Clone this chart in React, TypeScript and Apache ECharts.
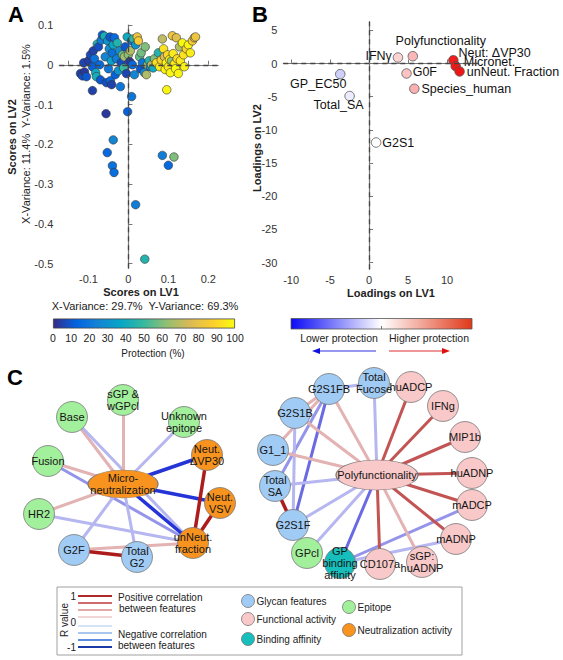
import React, { useEffect, useRef } from "react";
import * as echarts from "echarts";

const FONT = "'Liberation Sans', Arial, Helvetica, sans-serif";

// ---------------- Panel A : scores [LV1, LV2, protection %] ----------------
const scoreTicksX = [-0.15, -0.1, -0.05, 0, 0.05, 0.1, 0.15, 0.2];
const scoreLabelsX = [-0.1, 0, 0.1, 0.2];
const scoreTicksY = [0.1, 0, -0.1, -0.2, -0.3, -0.4, -0.5];
const scores: number[][] = [
  [-0.12, -0.022, 5], [-0.115, -0.028, 8], [-0.11, -0.018, 3], [-0.105, -0.03, 10],
  [-0.112, 0.005, 6], [-0.1, 0.01, 4], [-0.095, 0.025, 7], [-0.09, -0.005, 12],
  [-0.088, 0.035, 5], [-0.085, 0.015, 18], [-0.082, -0.02, 40], [-0.08, -0.03, 42],
  [-0.078, 0.052, 45], [-0.075, 0.045, 8], [-0.072, 0.0, 15], [-0.07, -0.038, 10],
  [-0.068, 0.062, 22], [-0.065, 0.075, 12], [-0.06, 0.072, 42], [-0.058, 0.02, 25],
  [-0.055, -0.045, 8], [-0.052, 0.06, 30], [-0.05, -0.01, 20], [-0.048, 0.04, 28],
  [-0.046, 0.07, 10], [-0.045, -0.04, 15], [-0.043, 0.01, 35], [-0.042, -0.05, 5],
  [-0.04, 0.03, 18], [-0.038, 0.05, 38], [-0.035, 0.068, 15], [-0.033, -0.025, 12],
  [-0.03, 0.015, 22], [-0.028, 0.055, 45], [-0.025, -0.015, 30], [-0.022, 0.035, 28],
  [-0.02, -0.055, 20], [-0.018, 0.005, 8], [-0.015, 0.025, 55], [-0.012, -0.008, 50],
  [-0.01, 0.02, 65], [-0.008, 0.045, 10], [-0.005, -0.022, 6], [-0.003, 0.07, 40],
  [0.0, 0.025, 62], [0.003, 0.008, 3], [0.005, 0.035, 68], [0.008, 0.06, 20],
  [0.01, 0.0, 15], [0.012, 0.065, 48], [0.015, -0.025, 25], [0.018, 0.05, 30],
  [0.022, 0.07, 82], [0.025, 0.06, 85], [0.028, 0.02, 55], [0.03, -0.01, 10],
  [0.032, 0.03, 58], [0.035, 0.005, 20], [0.04, -0.02, 28], [0.042, 0.045, 60],
  [0.045, -0.025, 68], [0.048, 0.0, 65], [0.052, 0.01, 45], [0.055, -0.005, 25],
  [0.058, 0.0, 70], [0.062, -0.008, 40], [0.065, 0.015, 60], [0.07, 0.005, 92],
  [0.075, 0.03, 45], [0.078, -0.005, 95], [0.082, 0.012, 88], [0.085, 0.065, 70],
  [0.088, 0.04, 93], [0.09, 0.02, 75], [0.092, -0.012, 98], [0.095, 0.005, 100],
  [0.098, 0.025, 90], [0.1, -0.005, 94], [0.103, 0.013, 97], [0.105, -0.02, 99],
  [0.108, 0.01, 62], [0.11, 0.073, 82], [0.112, 0.028, 95], [0.115, 0.002, 96],
  [0.118, -0.01, 100], [0.12, 0.068, 78], [0.122, 0.015, 91], [0.125, -0.022, 98],
  [0.128, 0.045, 68], [0.13, 0.01, 95], [0.135, 0.055, 100], [0.138, 0.025, 93],
  [0.14, -0.005, 97], [0.145, 0.04, 90], [0.15, 0.05, 98], [0.155, 0.03, 96],
  [0.16, 0.06, 85], [0.165, 0.068, 80], [0.168, 0.07, 82],
  [-0.09, -0.065, 5], [-0.056, -0.123, 3], [-0.002, -0.118, 12], [0.008, -0.08, 20],
  [-0.038, -0.189, 25], [-0.053, -0.221, 15], [-0.04, -0.254, 18], [-0.036, -0.271, 16],
  [0.018, -0.352, 22], [0.041, -0.489, 45], [0.085, -0.228, 22], [0.1, -0.253, 15],
  [0.114, -0.232, 60], [0.096, -0.063, 98],
];
const protectionRange = [0, 100];
const parula = ["#352a87", "#0363e1", "#1485d4", "#06a7c6", "#38b99e", "#92bf73", "#d9ba56", "#fcce2e", "#f9fb0e"];

// ---------------- Panel B : loadings ----------------
const loadingNames = ["G2S1", "Total_SA", "GP_EC50", "IFNγ", "G0F", "Species_human", "Polyfunctionality", "Neut: ΔVP30", "Micronet.", "unNeut. Fraction"];
const loadingLV1 = [0.9, -2.5, -3.7, 3.7, 4.8, 5.8, 5.6, 10.8, 11.1, 11.6];
const loadingLV2 = [-11.9, -4.9, -1.6, 0.9, -1.5, -3.8, 1.1, 0.5, -0.4, -1.2];
const loadingCorr = [0.0, -0.08, -0.2, 0.18, 0.25, 0.33, 0.3, 0.95, 0.97, 0.98];
const loadingTicksX = [-10, -5, 0, 5, 10];
const loadingTicksY = [5, 0, -5, -10, -15, -20, -25, -30];

// ---------------- Panel C : networks ----------------
const leftKeys = ["sGP", "Base", "Unknown", "Fusion", "NeutVP30", "Micro", "NeutVSV", "HR2", "unNeut", "G2F", "TotalG2"];
const leftLabels = ["sGP &\nwGPcl", "Base", "Unknown\nepitope", "Fusion", "Neut.\nΔVP30", "Micro-\nneutralization", "Neut.\nVSV", "HR2", "unNeut.\nfraction", "G2F", "Total\nG2"];
const leftX = [123, 72, 184, 48, 207, 123, 220, 39, 193, 74, 137];
const leftY = [400, 417, 422, 461, 455, 484, 503, 514, 543, 550, 557];
const leftGroup = ["epitope", "epitope", "epitope", "epitope", "neutralization", "neutralization", "neutralization", "epitope", "neutralization", "glycan", "glycan"];
const leftEdges: [string, string, number][] = [
  ["Base", "Micro", 0.3], ["Base", "unNeut", -0.35], ["sGP", "Micro", 0.3], ["Unknown", "Micro", -0.3],
  ["Fusion", "Micro", 0.3], ["Fusion", "unNeut", -0.4], ["HR2", "Micro", 0.3], ["HR2", "unNeut", -0.35],
  ["G2F", "Micro", -0.3], ["TotalG2", "Micro", -0.3], ["G2F", "unNeut", 0.3], ["G2F", "TotalG2", 0.85],
  ["Micro", "NeutVP30", -0.85], ["Micro", "NeutVSV", -0.85], ["Micro", "unNeut", -0.85],
  ["NeutVP30", "unNeut", 0.85], ["NeutVSV", "unNeut", 0.85],
];

const rightKeys = ["Poly", "TotalFucose", "huADCP", "G2S1FB", "IFNg", "G2S1B", "MIP1b", "G1_1", "huADNP", "TotalSA", "mADCP", "G2S1F", "mADNP", "GPcl", "GPbinding", "CD107a", "sGPhuADNP"];
const rightLabels = ["Polyfunctionality", "Total\nFucose", "huADCP", "G2S1FB", "IFNg", "G2S1B", "MIP1b", "G1_1", "huADNP", "Total\nSA", "mADCP", "G2S1F", "mADNP", "GPcl", "GP\nbinding\naffinity", "CD107a", "sGP:\nhuADNP"];
const rightX = [377, 374, 411, 329, 443, 295, 465, 273, 472, 275, 472, 293, 456, 307, 340, 380, 422];
const rightY = [475, 383, 387, 389, 406, 413, 437, 450, 473, 486, 505, 525, 539, 553, 563, 564, 562];
const rightGroup = ["functional", "glycan", "functional", "glycan", "functional", "glycan", "functional", "glycan", "functional", "glycan", "functional", "glycan", "functional", "epitope", "binding", "functional", "functional"];
const rightEdges: [string, string, number][] = [
  ["G2S1FB", "TotalFucose", -0.3], ["G2S1FB", "G2S1B", 0.3], ["G2S1FB", "G1_1", 0.3],
  ["G2S1FB", "TotalSA", -0.45], ["G2S1FB", "G2S1F", -0.6], ["G2S1B", "G2S1F", -0.35],
  ["TotalSA", "G2S1F", 0.85], ["GPbinding", "mADCP", -0.5], ["GPbinding", "mADNP", -0.3],
  ["TotalFucose", "Poly", -0.3], ["huADCP", "Poly", 0.65], ["IFNg", "Poly", 0.6], ["MIP1b", "Poly", 0.65],
  ["huADNP", "Poly", 0.65], ["mADCP", "Poly", 0.65], ["mADNP", "Poly", 0.65], ["CD107a", "Poly", 0.6],
  ["sGPhuADNP", "Poly", 0.3], ["G2S1FB", "Poly", 0.35], ["G2S1B", "Poly", 0.35], ["G1_1", "Poly", 0.3],
  ["TotalSA", "Poly", -0.3], ["G2S1F", "Poly", -0.35], ["GPcl", "Poly", -0.35], ["GPbinding", "Poly", -0.6],
];

// ---------------- styles ----------------
const groupColor: Record<string, string> = {
  glycan: "#a0cbf4", functional: "#f9c8c8", epitope: "#a2ef9c", neutralization: "#f7931e", binding: "#17bfbc",
};
const legendLineColors = ["#b02a2a", "#cf6b6b", "#e3a8a8", "#f2d6d6", "#d6e2f6", "#a9c6ef", "#5b8ee0", "#1a3aa8"];
const legendLineY = [596, 603, 610, 617, 626, 633, 640, 647];

const loadingLabelPlacement: Record<string, any> = {
  "Polyfunctionality": { position: "top", distance: 4, offset: [28, 0] },
  "IFNγ": { position: "left", distance: 1, offset: [0, -2] },
  "Neut: ΔVP30": { position: "right", distance: 0, offset: [0, -7] },
  "Micronet.": { position: "right", distance: 3, offset: [0, -4] },
  "unNeut. Fraction": { position: "right", distance: 2, offset: [0, 1] },
  "G0F": { position: "right", distance: 1, offset: [0, -1] },
  "Species_human": { position: "right", distance: 2, offset: [0, 0] },
  "GP_EC50": { position: "bottom", distance: -2, offset: [-22, 0] },
  "Total_SA": { position: "bottom", distance: -3, offset: [-11, 0] },
  "G2S1": { position: "right", distance: 1, offset: [0, 0] },
};

function edgeColor(r: number) {
  if (r >= 0.8) return "#ad1c1c";
  if (r >= 0.55) return "#c25454";
  if (r >= 0.4) return "#d58a8a";
  if (r >= 0) return "#e3b2b2";
  if (r > -0.4) return "#b6b6f0";
  if (r > -0.55) return "#9494ea";
  if (r > -0.8) return "#6a6ae2";
  return "#2434d6";
}

function nodeSize(key: string) {
  if (key === "Micro") return [70, 28];
  if (key === "Poly") return [82, 30];
  return 31;
}

function graphSeries(keys: string[], labels: string[], xs: number[], ys: number[], groups: string[], edges: [string, string, number][]) {
  const idx: Record<string, number> = {};
  keys.forEach((k, i) => (idx[k] = i));
  return {
    type: "graph",
    coordinateSystem: "cartesian2d",
    xAxisIndex: 2,
    yAxisIndex: 2,
    layout: "none",
    silent: true,
    roam: false,
    symbol: "circle",
    edgeSymbol: ["none", "none"],
    data: keys.map((k, i) => ({
      name: k,
      value: [xs[i], ys[i]],
      symbolSize: nodeSize(k),
      itemStyle: { color: groupColor[groups[i]], borderColor: "#7a7a7a", borderWidth: 0.8 },
      label: { formatter: labels[i] },
    })),
    links: edges.map(([s, t, r]) => ({
      source: idx[s],
      target: idx[t],
      lineStyle: { color: edgeColor(r), width: Math.abs(r) >= 0.8 ? 3.5 : 3, opacity: 1 },
    })),
    label: { show: true, position: "inside", fontSize: 11, color: "#151515", fontFamily: FONT, lineHeight: 12 },
    lineStyle: { opacity: 1, curveness: 0 },
  };
}

function txt(text: string, x: number, y: number, o: any = {}) {
  return {
    type: "text",
    x,
    y,
    rotation: o.rotation || 0,
    silent: true,
    z: 100,
    style: {
      text,
      x: 0,
      y: 0,
      fill: o.fill || "#222",
      fontSize: o.fontSize || 11,
      fontWeight: o.fontWeight || "normal",
      fontFamily: FONT,
      textAlign: o.align || "center",
      textVerticalAlign: "middle",
    },
  };
}

export default function App() {
  const ref = useRef<HTMLDivElement>(null);
  useEffect(() => {
    if (!ref.current) return;
    const chart = echarts.init(ref.current, undefined, { renderer: "svg" });
    const axisLineStyle = { lineStyle: { color: "#777", width: 1.2 } };
    const tickStyle = { inside: true, length: 4, lineStyle: { color: "#777" } };
    const labelStyle = { fontSize: 11, color: "#333", fontFamily: FONT };
    const dashed = { type: [5, 4], color: "#444", width: 1.3 };

    const loadingData = loadingNames.map((n, i) => ({
      value: [loadingLV1[i], loadingLV2[i], loadingCorr[i], n],
      label: { show: true, formatter: n, ...loadingLabelPlacement[n] },
    }));

    const graphic: any[] = [
      txt("A", 16, 14, { fontSize: 22, fontWeight: "bold", fill: "#000" }),
      txt("B", 260, 14, { fontSize: 22, fontWeight: "bold", fill: "#000" }),
      txt("C", 15, 377, { fontSize: 22, fontWeight: "bold", fill: "#000" }),
      txt("Scores on LV2", 12, 137, { rotation: Math.PI / 2, fontWeight: "bold" }),
      txt("X-Variance: 11.4%  Y-Variance: 1.5%", 26, 134, { rotation: Math.PI / 2 }),
      txt("Scores on LV1", 141, 292, { fontWeight: "bold" }),
      txt("X-Variance: 29.7%  Y-Variance: 69.3%", 145, 306, {}),
      txt("Protection (%)", 153, 353, { fontSize: 10 }),
      txt("Loadings on LV2", 257, 148, { rotation: Math.PI / 2, fontWeight: "bold" }),
      txt("Loadings on LV1", 391, 293, { fontWeight: "bold" }),
      {
        type: "rect",
        silent: true,
        shape: { x: 291, y: 318.5, width: 181, height: 10.5 },
        style: {
          fill: new echarts.graphic.LinearGradient(0, 0, 1, 0, [
            { offset: 0, color: "#0a0af5" },
            { offset: 0.5, color: "#ffffff" },
            { offset: 1, color: "#e03818" },
          ]),
          stroke: "#555",
          lineWidth: 0.8,
        },
      },
      { type: "line", silent: true, shape: { x1: 381.5, y1: 326, x2: 381.5, y2: 329 }, style: { stroke: "#555", lineWidth: 0.8 } },
      txt("Lower protection", 339, 337.5, { fontSize: 10.5 }),
      txt("Higher protection", 429, 337.5, { fontSize: 10.5 }),
      { type: "line", silent: true, shape: { x1: 376, y1: 351, x2: 318, y2: 351 }, style: { stroke: "#3030e0", lineWidth: 1.2 } },
      { type: "polygon", silent: true, shape: { points: [[312, 351], [320, 348], [320, 354]] }, style: { fill: "#1010e0" } },
      { type: "line", silent: true, shape: { x1: 389, y1: 351, x2: 443, y2: 351 }, style: { stroke: "#e03030", lineWidth: 1.2 } },
      { type: "polygon", silent: true, shape: { points: [[450, 351], [442, 348], [442, 354]] }, style: { fill: "#e01010" } },
      // legend box
      { type: "rect", silent: true, shape: { x: 57, y: 587, width: 405, height: 68 }, style: { fill: "#fff", stroke: "#a0a0a0", lineWidth: 1 }, z: 50 },
      txt("R value", 64, 620, { rotation: Math.PI / 2, fontSize: 10 }),
      txt("1", 76, 596, { fontSize: 10, align: "right" }),
      txt("0", 76, 622, { fontSize: 10, align: "right" }),
      txt("-1", 76, 647, { fontSize: 10, align: "right" }),
      ...legendLineColors.map((c, i) => ({
        type: "line",
        silent: true,
        z: 100,
        shape: { x1: 78, y1: legendLineY[i], x2: 112, y2: legendLineY[i] },
        style: { stroke: c, lineWidth: 2 },
      })),
      txt("Positive correlation", 118, 597, { fontSize: 10, align: "left" }),
      txt("between features", 119, 608, { fontSize: 10, align: "left" }),
      txt("Negative correlation", 118, 634, { fontSize: 10, align: "left" }),
      txt("between features", 118, 645, { fontSize: 10, align: "left" }),
      ...([
        ["glycan", "Glycan features", 248, 601],
        ["functional", "Functional activity", 248, 619],
        ["binding", "Binding affinity", 248, 639],
        ["epitope", "Epitope", 349, 607],
        ["neutralization", "Neutralization activity", 349, 630],
      ] as [string, string, number, number][]).flatMap(([g, label, x, y]) => [
        { type: "circle", silent: true, z: 100, shape: { cx: x, cy: y, r: 6.5 }, style: { fill: groupColor[g], stroke: "#777", lineWidth: 0.8 } },
        txt(label, x + 8.5, y, { fontSize: 10, align: "left" }),
      ]),
    ];

    chart.setOption({
      animation: false,
      textStyle: { fontFamily: FONT },
      grid: [
        { left: 59.3, top: 25, width: 159, height: 243.3 },
        { left: 283.3, top: 21.7, width: 195, height: 247.6 },
        { left: 0, top: 360, width: 563, height: 230 },
        { left: 53, top: 318.5, width: 182, height: 10 },
      ],
      xAxis: [
        {
          gridIndex: 0, type: "value", min: -0.173, max: 0.225,
          axisLine: axisLineStyle, axisTick: { ...tickStyle, customValues: scoreTicksX },
          axisLabel: { ...labelStyle, margin: 5, customValues: scoreLabelsX }, splitLine: { show: false },
        },
        {
          gridIndex: 1, type: "value", min: -11, max: 14,
          axisLine: axisLineStyle, axisTick: { ...tickStyle, customValues: loadingTicksX },
          axisLabel: { ...labelStyle, margin: 5, customValues: loadingTicksX }, splitLine: { show: false },
        },
        { gridIndex: 2, type: "value", min: 0, max: 563, show: false },
        {
          gridIndex: 3, type: "value", min: protectionRange[0], max: protectionRange[1], interval: 10,
          axisLine: { show: false }, axisTick: { inside: true, length: 2, lineStyle: { color: "#444" } },
          axisLabel: { fontSize: 10.5, color: "#222", margin: 4, fontFamily: FONT }, splitLine: { show: false },
        },
      ],
      yAxis: [
        {
          gridIndex: 0, type: "value", min: -0.512, max: 0.1,
          axisLine: axisLineStyle, axisTick: { ...tickStyle, customValues: scoreTicksY },
          axisLabel: { ...labelStyle, margin: 6, customValues: scoreTicksY }, splitLine: { show: false },
        },
        {
          gridIndex: 1, type: "value", min: -31, max: 6.3,
          axisLine: axisLineStyle, axisTick: { ...tickStyle, customValues: loadingTicksY },
          axisLabel: { ...labelStyle, margin: 6, customValues: loadingTicksY }, splitLine: { show: false },
        },
        { gridIndex: 2, type: "value", min: 360, max: 590, inverse: true, show: false },
        { gridIndex: 3, type: "category", data: ["bar"], show: false },
      ],
      visualMap: [
        { type: "continuous", show: false, seriesIndex: 0, dimension: 2, min: protectionRange[0], max: protectionRange[1], inRange: { color: parula } },
        { type: "continuous", show: false, seriesIndex: 1, dimension: 2, min: -1, max: 1, inRange: { color: ["#1010f0", "#ffffff", "#f01010"] } },
      ],
      graphic,
      series: [
        {
          type: "scatter", xAxisIndex: 0, yAxisIndex: 0, data: scores, symbolSize: 8.5, silent: true,
          itemStyle: { borderColor: "#333", borderWidth: 0.6, opacity: 1 },
          markLine: { silent: true, symbol: ["none", "none"], label: { show: false }, lineStyle: dashed, data: [{ xAxis: 0 }, { yAxis: 0 }] },
        },
        {
          type: "scatter", xAxisIndex: 1, yAxisIndex: 1, data: loadingData, symbolSize: 9.5, silent: true,
          itemStyle: { borderColor: "#555", borderWidth: 0.8, opacity: 1 },
          label: { show: true, fontSize: 12.5, color: "#111", fontFamily: FONT },
          markLine: { silent: true, symbol: ["none", "none"], label: { show: false }, lineStyle: dashed, data: [{ xAxis: 0 }, { yAxis: 0 }] },
        },
        graphSeries(leftKeys, leftLabels, leftX, leftY, leftGroup, leftEdges),
        graphSeries(rightKeys, rightLabels, rightX, rightY, rightGroup, rightEdges),
        {
          type: "bar", xAxisIndex: 3, yAxisIndex: 3, data: [protectionRange[1]], barWidth: "100%", silent: true,
          itemStyle: {
            color: new echarts.graphic.LinearGradient(0, 0, 1, 0, parula.map((c, i) => ({ offset: i / (parula.length - 1), color: c }))),
            borderColor: "#444", borderWidth: 0.8,
          },
        },
      ],
    });
    return () => chart.dispose();
  }, []);
  return <div ref={ref} style={{ position: "absolute", left: 0, top: 0, width: 563, height: 660 }} />;
}
